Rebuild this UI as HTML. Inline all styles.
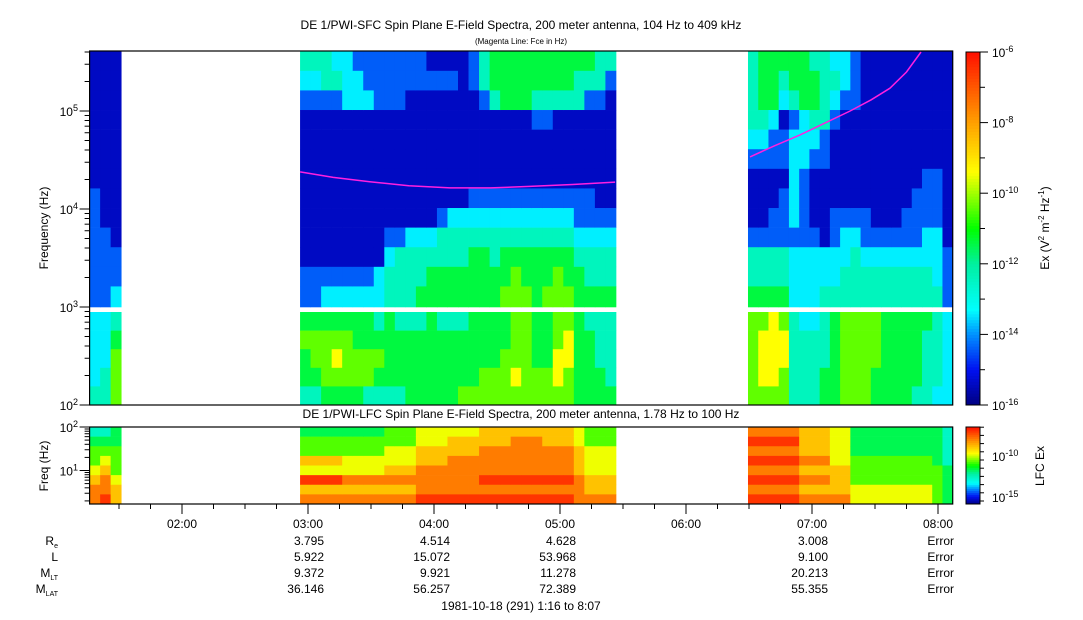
<!DOCTYPE html>
<html><head><meta charset="utf-8"><style>
html,body{margin:0;padding:0;background:#fff;}
svg{display:block;font-family:"Liberation Sans",sans-serif;}
</style></head><body>
<svg id="c" width="1083" height="620" xmlns="http://www.w3.org/2000/svg">
<text x="521" y="29" font-size="12" text-anchor="middle">DE 1/PWI-SFC  Spin Plane E-Field Spectra, 200 meter antenna, 104 Hz to 409 kHz</text>
<text x="521" y="44" font-size="8" text-anchor="middle">(Magenta Line: Fce in Hz)</text>
<text x="521" y="418" font-size="12" text-anchor="middle">DE 1/PWI-LFC  Spin Plane E-Field Spectra, 200 meter antenna, 1.78 Hz to 100 Hz</text>
<g id="cells"></g>
<g id="axes"></g>
<text transform="translate(48,228) rotate(-90)" font-size="12" text-anchor="middle">Frequency (Hz)</text>
<text transform="translate(48,466) rotate(-90)" font-size="12" text-anchor="middle">Freq (Hz)</text>
<text transform="translate(1049,228) rotate(-90)" font-size="12" text-anchor="middle">Ex (V<tspan font-size="8" dy="-5">2</tspan><tspan dy="5"> m</tspan><tspan font-size="8" dy="-5">-2</tspan><tspan dy="5"> Hz</tspan><tspan font-size="8" dy="-5">-1</tspan><tspan dy="5">)</tspan></text>
<text transform="translate(1044,466) rotate(-90)" font-size="12" text-anchor="middle">LFC Ex</text>
<g font-size="12" text-anchor="end">
<text x="58" y="545">R<tspan font-size="7" dy="3">e</tspan></text>
<text x="58" y="561">L</text>
<text x="58" y="577">M<tspan font-size="7" dy="3">LT</tspan></text>
<text x="58" y="593">M<tspan font-size="7" dy="3">LAT</tspan></text>
</g>
<g id="eph" font-size="12" text-anchor="end"></g>
<text x="521" y="610" font-size="12" text-anchor="middle">1981-10-18 (291) 1:16 to 8:07</text>
</svg>
<script>
// ---- data ----
const segTimes = [[1.267,1.517],[2.937,5.444],[6.492,8.117]];
const sfcSeg1 = ["111111122222233334","111111111222233344","111111111122345666"];
const sfcSeg2 = ["432111111112256554","432111111112256654","442111111112356665","342111111112356765","333111111112356665","233111111112355665","223111111112355664","222111111113345654","222111111234455554","222111111244445554","221111111344445555","221111111344545555","121111111345555555","121111112445545555","121111113445545555","111111113445545556","221111123455555556","442111123455555566","554111123445555566","555111123455655666","555111123456666676","555111123455666666","554211123455555566","554211123455655566","554111123456666776","554111123455667766","544111122345555555","542111122344545555","442111112344544455","421111112344544445"];
const sfcSeg3 = ["444432111244566666","555432111244567776","555322112244577776","543122122244567766","554233333233344444","555333222233334444","455432111233334444","444422111133444455","343211112233455555","332111112334466666","222111112344466666","111111112234466666","111111111234466655","111111111234455555","111111111234455555","111111112234455555","111111122234455554","111111222334454444","111111222333444443","111111111122233333"];
const lfcSeg1 = ["34556788","34567889","44555677"];
const lfcSeg2 = ["45576978","45576978","45576978","45576978","45566878","45566878","45566878","45566878","55667878","55667878","55667878","66778889","66778889","66778889","67788889","67788889","67788889","77888989","77888989","77888989","78888989","78888989","78888989","77888989","77888989","77888989","66777888","55666778","55666778","55666778"];
const lfcSeg3 = ["89898989","89898989","89898989","89898989","89898989","77787878","77787878","77787878","66667778","66667778","44455566","44455566","44455566","44455566","44455566","44455566","44455566","44455566","44445555","33334444"];
const fceTimes2 = [2.937,3.2,3.49,3.8,4.127,4.45,4.76,5.1,5.437];
const fceVals2 = [23900,21000,19000,17300,16400,16400,17000,17800,18800];
const fceTimes3 = [6.508,6.7,6.905,7.1,7.302,7.47,7.619,7.75,7.865];
const fceVals3 = [34000,44000,57000,75000,100000,130000,171000,250000,400000];
const timeTicks = ["02:00","03:00","04:00","05:00","06:00","07:00","08:00"];
const ephTimes = [3,4,5,7,8.117];
const ephRe = ["3.795","4.514","4.628","3.008","Error"];
const ephL = ["5.922","15.072","53.968","9.100","Error"];
const ephMLT = ["9.372","9.921","11.278","20.213","Error"];
const ephMLAT = ["36.146","56.257","72.389","55.355","Error"];
// ---- scales ----
const NS="http://www.w3.org/2000/svg";
const X0=89.6,X1=952.7;
const xT=h=>182+(h-2)*126;
const ySfc=f=>111+(5-Math.log10(f))*98;
const yLfc=f=>427+(2-Math.log10(f))*43.5;
const stops=[[0,[0,0,128]],[.1,[0,16,240]],[.2,[0,144,255]],[.27,[0,255,255]],[.4,[0,240,160]],[.5,[0,255,0]],[.6,[160,255,0]],[.66,[255,255,0]],[.8,[255,160,0]],[1,[255,16,0]]];
function cmap(t){t=Math.max(0,Math.min(1,t));for(let i=1;i<stops.length;i++){if(t<=stops[i][0]){const a=stops[i-1],b=stops[i],u=(t-a[0])/(b[0]-a[0]);const c=a[1].map((v,k)=>Math.round(v+(b[1][k]-v)*u));return `rgb(${c})`;}}return 'rgb(255,16,0)';}
function mk(tag,attrs,parent){const e=document.createElementNS(NS,tag);for(const k in attrs)e.setAttribute(k,attrs[k]);parent.appendChild(e);return e;}
const cells=document.getElementById('cells');
const sfcRows=[];
for(let r=0;r<13;r++){sfcRows.push([Math.max(51,ySfc(Math.pow(10,5.61-0.2*r))),ySfc(Math.pow(10,5.41-0.2*r))]);}
sfcRows[12][1]=307;
for(let r=0;r<5;r++){sfcRows.push([312+r*18.6,312+(r+1)*18.6]);}
const lfcRows=[];
for(let r=0;r<8;r++){lfcRows.push([427+r*9.625,427+(r+1)*9.625]);}
function drawSeg(seg,cols,rows,name,shift){
  const xa=xT(Math.max(seg[0],1.2667)),xb=Math.min(xT(seg[1]),X1);const w=(xb-xa)/cols.length;
  cols.forEach((s,i)=>{for(let r=0;r<rows.length;r++){
    const e=mk('rect',{x:(xa+i*w).toFixed(2),y:rows[r][0].toFixed(2),width:(w+0.4).toFixed(2),height:(rows[r][1]-rows[r][0]+0.3).toFixed(2),fill:cmap(+s[r]/10+shift)},cells);
    
    
  }});
}
drawSeg(segTimes[0],sfcSeg1,sfcRows,'sfc-cell',-0.04);
drawSeg(segTimes[1],sfcSeg2,sfcRows,'sfc-cell',-0.04);
drawSeg(segTimes[2],sfcSeg3,sfcRows,'sfc-cell',-0.04);
drawSeg(segTimes[0],lfcSeg1,lfcRows,'lfc-cell',0.05);
drawSeg(segTimes[1],lfcSeg2,lfcRows,'lfc-cell',0.05);
drawSeg(segTimes[2],lfcSeg3,lfcRows,'lfc-cell',0.05);
[[fceTimes2,fceVals2],[fceTimes3,fceVals3]].forEach(([t,v])=>{
  const pts=t.map((h,i)=>xT(h).toFixed(1)+','+ySfc(v[i]).toFixed(1)).join(' ');
  const p=mk('polyline',{points:pts,fill:'none',stroke:'#ff20e0','stroke-width':1.5},cells);
  
  
});
const ax=document.getElementById('axes');
function frame(y0,y1,name){const r=mk('rect',{x:X0,y:y0,width:X1-X0,height:y1-y0,fill:'none',stroke:'#000','stroke-width':1.2},ax);}
frame(51,405,'sfc-plot-frame');frame(427,504,'lfc-plot-frame');
function line(x1,y1,x2,y2){mk('line',{x1,y1,x2,y2,stroke:'#000','stroke-width':1},ax);}
function label(x,y,base,exp,anchor,name){const t=mk('text',{x,y,'font-size':12,'text-anchor':anchor},ax);t.textContent=base;const s=mk('tspan',{'font-size':9,dy:-5},t);s.textContent=exp;}
for(let d=2;d<=5;d++){for(let m=1;m<10;m++){const f=m*Math.pow(10,d);const y=ySfc(f);if(y<51||y>405.5)continue;line(X0-(m==1?10:5),y,X0,y);}
 label(78,ySfc(Math.pow(10,d))+5,'10',String(d),'end','y-tick-label');}
for(let d=0;d<=2;d++){for(let m=1;m<10;m++){const f=m*Math.pow(10,d);const y=yLfc(f);if(y<427||y>504.5)continue;line(X0-(m==1?10:5),y,X0,y);}}
label(78,yLfc(100)+5,'10','2','end','lfc-y-tick-label');label(78,yLfc(10)+5,'10','1','end','lfc-y-tick-label');
for(let q=0;q<28;q++){const h=1.25+q*0.25;const x=xT(h);if(x<X0||x>X1)continue;const maj=Math.abs(h-Math.round(h))<1e-6;line(x,504,x,504+(maj?10:5));}
timeTicks.forEach((s,i)=>{const t=mk('text',{x:xT(2+i),y:528,'font-size':12,'text-anchor':'middle'},ax);t.textContent=s;});
const cb=mk('g',{},ax);
for(let i=0;i<120;i++){const y=405-(i+1)*353/120;mk('rect',{x:966,y:y.toFixed(2),width:14,height:(353/120+0.5).toFixed(2),fill:cmap((i+0.5)/120)},cb);}
mk('rect',{x:966,y:52,width:14,height:353,fill:'none',stroke:'#000'},cb);
for(let k=0;k<=10;k++){const y=405-k*35.3;line(980,y,(k%2==0)?988:985,y);if(k%2==0)label(992,y+5,'10',String(-16+k),'start','colorbar-tick-label');}
const cb2=mk('g',{},ax);
for(let i=0;i<40;i++){const y=504-(i+1)*77/40;mk('rect',{x:966,y:y.toFixed(2),width:14,height:(77/40+0.5).toFixed(2),fill:cmap((i+0.5)/40)},cb2);}
mk('rect',{x:966,y:427,width:14,height:77,fill:'none',stroke:'#000'},cb2);
for(let k=0;k<10;k++){const y=501-k*8.2;line(980,y,984,y);}
label(992,461,'10','-10','start','lfc-colorbar-tick-label');label(992,502,'10','-15','start','lfc-colorbar-tick-label');
const eph=document.getElementById('eph');
[[ephRe,545],[ephL,561],[ephMLT,577],[ephMLAT,593]].forEach(([arr,y])=>{arr.forEach((v,i)=>{const t=mk('text',{x:Math.min(xT(ephTimes[i])+16,954),y},eph);t.textContent=v;});});
</script>
</body></html>
